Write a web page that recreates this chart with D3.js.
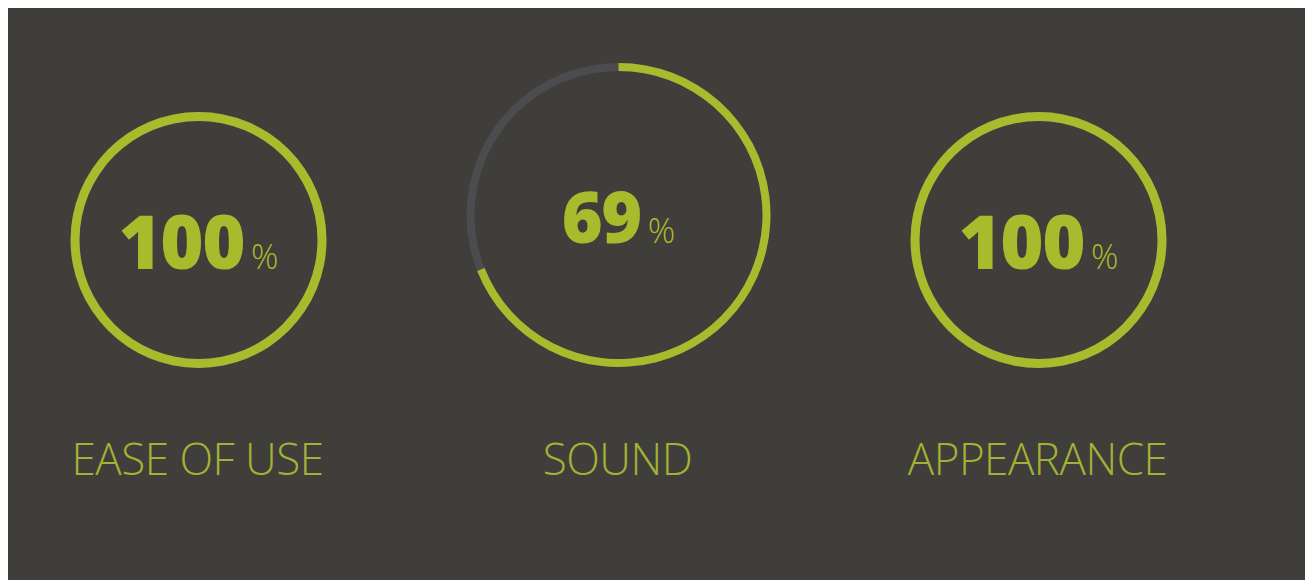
<!DOCTYPE html>
<html><head><meta charset="utf-8">
<script src="https://cdn.jsdelivr.net/npm/d3@7"></script>
<style>
html,body{margin:0;padding:0;background:#fff;}
svg{display:block;}
</style></head>
<body>
<script>
const categories = ["EASE OF USE", "SOUND", "APPEARANCE"];
const values = [100, 69, 100];
const unit = "%";

const W = 1308, H = 580;
const green = "#a8bb2c", labelGreen = "#a3b135", bg = "#403e3b", track = "#4c4b4d";
const emphasized = 1;

const svg = d3.select("body").append("svg").attr("width", W).attr("height", H);
svg.append("rect").attr("x", 8).attr("y", 8).attr("width", 1297).attr("height", H - 8).attr("fill", bg);

const x = d3.scalePoint().domain(categories).range([198.5, 1038.5]);
const angle = d3.scaleLinear().domain([0, 100]).range([0, 2 * Math.PI]);

const g = svg.selectAll("g.gauge").data(categories.map((c, i) => ({c, v: values[i], i})))
  .join("g").attr("class", "gauge")
  .attr("transform", d => `translate(${x(d.c)},${d.i === emphasized ? 215 : 240})`);

const rOuter = d => d.i === emphasized ? 152 : 128;
const rInner = d => d.i === emphasized ? 144 : 119;

g.append("path").attr("fill", track)
  .attr("d", d => d3.arc().innerRadius(rInner(d)).outerRadius(rOuter(d)).startAngle(0).endAngle(2 * Math.PI)());
g.append("path").attr("fill", green)
  .attr("d", d => d3.arc().innerRadius(rInner(d)).outerRadius(rOuter(d)).startAngle(0).endAngle(angle(d.v))());

const t = g.append("text").attr("text-anchor", "middle").attr("y", d => d.i === emphasized ? 28 : 29)
  .attr("font-family", "'Open Sans', sans-serif").attr("fill", green);
t.append("tspan").attr("font-size", d => d.i === emphasized ? 70 : 74).attr("font-weight", 800)
  .attr("letter-spacing", -1.5).text(d => d.v);
t.append("tspan").attr("font-size", 34).attr("font-weight", 300).attr("dx", 7).text(unit);

svg.selectAll("text.label").data(categories).join("text").attr("class", "label")
  .attr("x", d => x(d) - 1).attr("y", 475).attr("text-anchor", "middle")
  .attr("font-family", "'Open Sans', sans-serif").attr("font-weight", 300).attr("font-size", 44)
  .attr("letter-spacing", -0.5)
  .attr("fill", labelGreen).text(d => d);
</script>
</body></html>
